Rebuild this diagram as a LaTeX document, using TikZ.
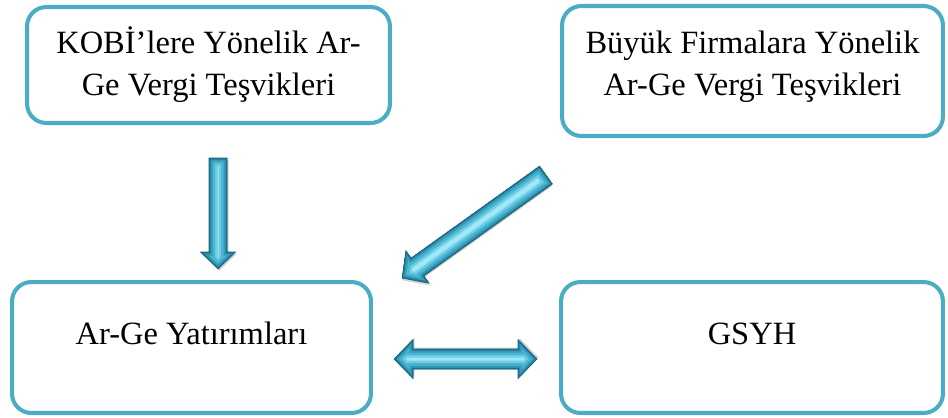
\documentclass[tikz,border=0pt]{standalone}
\usepackage{fontspec}
\setmainfont{Liberation Serif}
\usepackage{xcolor}
\definecolor{boxteal}{RGB}{75,172,198}
\definecolor{arrdark}{RGB}{34,120,150}
\definecolor{arrmid}{RGB}{72,182,210}
\definecolor{arrlight}{RGB}{160,232,248}
\usetikzlibrary{positioning}

\tikzset{
  infobox/.style={draw=boxteal,line width=2.3pt,rounded corners=11pt,fill=white,
    align=center,font=\fontsize{18.5}{24}\selectfont,inner sep=0pt}
}

% arrow outlines, drawn along +x from the tail (length, half shaft, half head, head length)
\newcommand{\singlepath}[4]{(0,-#2) -- (#1-#4,-#2) -- (#1-#4,-#3) -- (#1,0) -- (#1-#4,#3) -- (#1-#4,#2) -- (0,#2) -- cycle}
\newcommand{\doublepath}[4]{(0,0) -- (#4,-#3) -- (#4,-#2) -- (#1-#4,-#2) -- (#1-#4,-#3) -- (#1,0)
  -- (#1-#4,#3) -- (#1-#4,#2) -- (#4,#2) -- (#4,#3) -- cycle}
% bevelled fill: light core, darker bands toward the rim
\newcommand{\bevelarrow}[1]{%
  \fill[black,opacity=0.18,shift={(1.5,-1.5)}] #1;
  \fill[arrlight] #1;
  \begin{scope}
    \clip #1;
    \foreach \w/\c in {17/arrmid!55!arrlight,12/arrmid,7/arrmid!55!arrdark,3/arrdark}
      \draw[line width=\w*0.02cm,\c,line join=miter] #1;
  \end{scope}
  \draw[arrdark!80!black,line width=0.3pt,line join=miter] #1;
}

\begin{document}
\begin{tikzpicture}[x=0.02cm,y=-0.02cm]
  \useasboundingbox (0,0) rectangle (948,417);
  % Boxes
  \node[infobox,minimum width=7.26cm,minimum height=2.32cm] (kobi) at (208.5,65)
    {KOBİ’lere Yönelik Ar-\\Ge Vergi Teşvikleri};
  \node[infobox,minimum width=7.62cm,minimum height=2.6cm,text depth=0.3cm] (buyuk) at (752.5,71)
    {Büyük Firmalara Yönelik\\Ar-Ge Vergi Teşvikleri};
  \node[infobox,minimum width=7.18cm,minimum height=2.62cm,text depth=0.56cm] (arge) at (191.5,347.5)
    {Ar-Ge Yatırımları};
  \node[infobox,minimum width=7.64cm,minimum height=2.62cm,text depth=0.56cm] (gsyh) at (752,347.5)
    {GSYH};
  % Block arrows
  \begin{scope}[shift={(218,158)},rotate=-90]
    \bevelarrow{\singlepath{111}{9}{17.5}{17}}
  \end{scope}
  \begin{scope}[shift={(546,175)},rotate=215.6]
    \bevelarrow{\singlepath{177}{11}{20}{19}}
  \end{scope}
  \begin{scope}[shift={(394,359)}]
    \bevelarrow{\doublepath{143}{10}{19.5}{19}}
  \end{scope}
\end{tikzpicture}
\end{document}
